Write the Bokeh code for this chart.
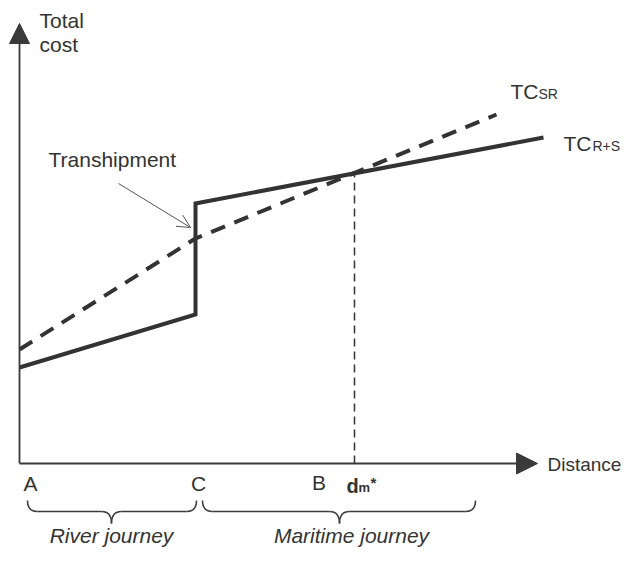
from bokeh.plotting import figure
from bokeh.models import Range1d, Arrow, NormalHead, OpenHead
from bokeh.core.properties import value
from bokeh.embed import file_html
from bokeh.resources import INLINE

# ---- data (abstract distance / cost units) ----
axis_x_end = 518
axis_y_end = 440

# TC_{R+S}: river leg, transhipment jump at C, then maritime leg
rs_x = [0, 176, 176, 524]
rs_y = [96, 149, 260, 326]
# TC_SR: direct river-sea
sr_x = [0, 176, 477]
sr_y = [114, 225, 349]
# break-even distance d_m* and its cost
dm_x = 335
dm_y = 290

# axis point labels
point_labels = ["A", "C", "B"]
point_label_x = [11, 179, 299.5]

# braces: start, end, tip
brace_starts = [8, 183]
brace_ends = [177, 456]
brace_tips = [92, 320]
journey_labels = ["River journey", "Maritime journey"]
journey_x = [92, 332]

FONT = value("Liberation Sans")
INK = "#333333"
AX = "#3a3a3a"

p = figure(width=622, height=551, x_range=Range1d(-19, 603), y_range=Range1d(-88, 463),
           output_backend="svg", toolbar_location=None,
           x_axis_location=None, y_axis_location=None,
           min_border=0, min_border_left=0, min_border_right=0,
           min_border_top=0, min_border_bottom=0)
p.grid.visible = False
p.outline_line_color = None
p.background_fill_color = "white"
p.border_fill_color = "white"

# axes with arrowheads
p.add_layout(Arrow(end=NormalHead(size=20, fill_color=AX, line_color=AX, line_width=1),
                   x_start=0, y_start=0, x_end=0, y_end=axis_y_end,
                   line_color=AX, line_width=1.8))
p.add_layout(Arrow(end=NormalHead(size=21, fill_color=AX, line_color=AX, line_width=1),
                   x_start=0, y_start=0, x_end=axis_x_end, y_end=0,
                   line_color=AX, line_width=1.8))

# cost curves
p.line(sr_x, sr_y, line_color=INK, line_width=4, line_dash="15 10")
p.line(rs_x, rs_y, line_color=INK, line_width=4, line_join="miter")

# d_m* drop line
p.line([dm_x, dm_x], [0, dm_y], line_color=INK, line_width=1.5, line_dash="8 5")

# transhipment annotation arrow
p.add_layout(Arrow(end=OpenHead(size=13, line_color="#555555", line_width=1),
                   x_start=99, y_start=280, x_end=rs_x[1] - 5, y_end=236,
                   line_color="#555555", line_width=1))

# braces
top, mid, tip, r = -37, -48, -60, 10
qx0, qy0, qx1, qy1, qcx, qcy = [], [], [], [], [], []
sx0, sy0, sx1, sy1 = [], [], [], []
for a, b, t in zip(brace_starts, brace_ends, brace_tips):
    qx0 += [a, t - r, t, b - r]
    qy0 += [top, mid, tip, mid]
    qx1 += [a + r, t, t + r, b]
    qy1 += [mid, tip, mid, top]
    qcx += [a, t, t, b]
    qcy += [mid, mid, mid, mid]
    sx0 += [a + r, t + r]
    sy0 += [mid, mid]
    sx1 += [t - r, b - r]
    sy1 += [mid, mid]
p.quadratic(x0=qx0, y0=qy0, x1=qx1, y1=qy1, cx=qcx, cy=qcy, line_color=AX, line_width=1.5)
p.segment(x0=sx0, y0=sy0, x1=sx1, y1=sy1, line_color=AX, line_width=1.5)

# texts
def txt(x, y, t, size, align="left", style="normal", color=INK):
    p.text(x=x, y=y, text=t, text_font=FONT, text_font_size=value(size),
           text_font_style=style, text_color=color, text_align=align,
           text_baseline="alphabetic")

txt([20, 20], [443, 419], ["Total", "cost"], "21px")
txt([29], [304], ["Transhipment"], "21px")
txt([528], [-1], ["Distance"], "19px")
txt([491], [372], ["TC"], "21px")
txt([519], [370], ["SR"], "14px")
txt([544], [320], ["TC"], "21px")
txt([573], [318], ["R+S"], "14px")
txt(point_label_x, [-20, -20, -19], point_labels, "21px", align="center")
txt([dm_x - 8], [-22], ["d"], "20px", style="bold")
txt([dm_x + 4], [-24], ["m"], "13px", style="bold")
txt([dm_x + 16], [-19], ["*"], "15px", style="bold")
txt(journey_x, [-72, -72], journey_labels, "21px", align="center", style="italic")

open("out.html", "w").write(file_html(p, INLINE))
